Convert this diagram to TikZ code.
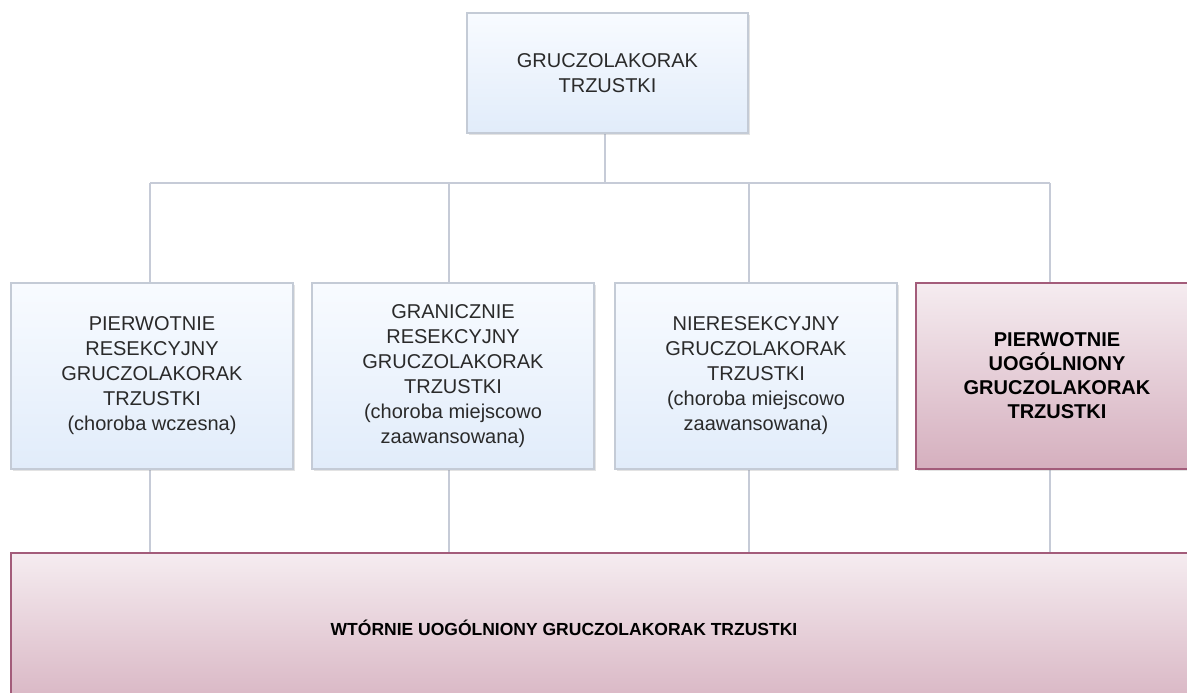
\documentclass[tikz,border=0pt]{standalone}
\usepackage{fontspec}
\setmainfont{Liberation Sans}
\usetikzlibrary{shadows,calc}
\definecolor{bluetop}{HTML}{F8FBFF}
\definecolor{bluebot}{HTML}{E1ECFA}
\definecolor{blueborder}{HTML}{C4CBD6}
\definecolor{pinktop}{HTML}{F5ECF0}
\definecolor{pinkbot}{HTML}{D5AFBE}
\definecolor{pinkborder}{HTML}{A35C7A}
\definecolor{linecol}{HTML}{C6CBD7}
\definecolor{txt}{HTML}{2A2A2A}
\tikzset{
  basebox/.style={rectangle, inner sep=0pt, align=center,
    drop shadow={shadow xshift=1.5pt, shadow yshift=-2pt, opacity=0.22}},
  bluebox/.style={basebox, draw=blueborder, line width=1.2pt,
    top color=bluetop, bottom color=bluebot, text=txt,
    font=\fontsize{20}{25}\selectfont},
  pinkbox/.style={basebox, draw=pinkborder, line width=1.4pt,
    top color=pinktop, bottom color=pinkbot, text=black,
    font=\fontsize{20}{24}\selectfont\bfseries},
  midbox/.style={minimum width=282pt, minimum height=186pt},
  conn/.style={draw=linecol, line width=2pt}
}
\begin{document}
\begin{tikzpicture}[x=1pt,y=-1pt]
\clip (0,0) rectangle (1187,693);
\fill[white] (0,0) rectangle (1187,693);

% connector coordinates
\coordinate (hL) at (150,183);
\coordinate (h2) at (449,183);
\coordinate (h3) at (749,183);
\coordinate (hR) at (1050,183);
\coordinate (top) at (605,183);

% connectors (behind boxes)
\draw[conn] (605,133) coordinate (topfoot) -- (top);
\draw[conn] (hL) -- (hR);
\foreach \c in {hL,h2,h3,hR}{
  \draw[conn] (\c) -- ++(0,101);
  \draw[conn] ($(\c)+(0,285)$) -- ++(0,86);
}

% boxes
\node[bluebox, minimum width=281pt, minimum height=120pt] (root) at (607.5,73)
  {GRUCZOLAKORAK\\TRZUSTKI};
\node[bluebox, midbox] (b1) at (152,376)
  {PIERWOTNIE\\RESEKCYJNY\\GRUCZOLAKORAK\\TRZUSTKI\\(choroba wczesna)};
\node[bluebox, midbox] (b2) at (453,376)
  {GRANICZNIE\\RESEKCYJNY\\GRUCZOLAKORAK\\TRZUSTKI\\(choroba miejscowo\\zaawansowana)};
\node[bluebox, midbox] (b3) at (756,376)
  {NIERESEKCYJNY\\GRUCZOLAKORAK\\TRZUSTKI\\(choroba miejscowo\\zaawansowana)};
\node[pinkbox, midbox] (b4) at (1057,376)
  {PIERWOTNIE\\UOGÓLNIONY\\GRUCZOLAKORAK\\TRZUSTKI};
\node[pinkbox, minimum width=1187pt, minimum height=170pt] (bottom) at (604.5,638) {};
\node[font=\fontsize{17.5}{21}\selectfont\bfseries, text=black, inner sep=0pt] (bottomlabel) at (564,628)
  {WTÓRNIE UOGÓLNIONY GRUCZOLAKORAK TRZUSTKI};
\end{tikzpicture}
\end{document}
